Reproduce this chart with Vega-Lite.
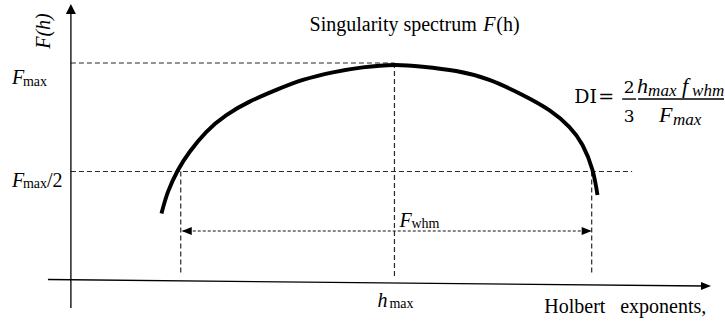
{
  "$schema": "https://vega.github.io/schema/vega-lite/v6.json",
  "width": 725,
  "height": 322,
  "padding": 0,
  "autosize": {"type": "fit", "contains": "padding"},
  "background": "white",
  "config": {"view": {"stroke": null}},
  "datasets": {
    "curve": [
      {"h": 0.907, "F": 0.307},
      {"h": 0.973, "F": 0.407},
      {"h": 1.073, "F": 0.507},
      {"h": 1.19, "F": 0.591},
      {"h": 1.357, "F": 0.683},
      {"h": 1.557, "F": 0.76},
      {"h": 1.79, "F": 0.822},
      {"h": 2.057, "F": 0.876},
      {"h": 2.323, "F": 0.922},
      {"h": 2.623, "F": 0.957},
      {"h": 2.923, "F": 0.98},
      {"h": 3.24, "F": 0.991},
      {"h": 3.523, "F": 0.983},
      {"h": 3.857, "F": 0.963},
      {"h": 4.19, "F": 0.922},
      {"h": 4.523, "F": 0.853},
      {"h": 4.79, "F": 0.783},
      {"h": 4.99, "F": 0.706},
      {"h": 5.123, "F": 0.622},
      {"h": 5.223, "F": 0.507},
      {"h": 5.273, "F": 0.392}
    ],
    "guides": [
      {"h": 0, "F": 1.0, "h2": 3.24, "F2": 1.0},
      {"h": 0, "F": 0.5, "h2": 5.62, "F2": 0.5},
      {"h": 1.1, "F": 0.5, "h2": 1.1, "F2": 0.023},
      {"h": 3.24, "F": 1.0, "h2": 3.24, "F2": 0.009},
      {"h": 5.215, "F": 0.5, "h2": 5.215, "F2": 0.023}
    ],
    "span": [
      {"h": 1.12, "F": 0.2258, "h2": 5.2, "F2": 0.2258}
    ],
    "axes": [
      {"h": 0, "F": -0.129, "h2": 0, "F2": 1.235},
      {"h": -0.23, "F": 0.0023, "h2": 6.34, "F2": -0.0276}
    ],
    "bars": [
      {"h": 5.52, "F": 0.834, "h2": 5.66, "F2": 0.834},
      {"h": 5.68, "F": 0.834, "h2": 6.54, "F2": 0.834}
    ],
    "headUp": [{"h": 0, "F": 1.2488}],
    "headRight": [{"h": 6.36, "F": -0.0276}, {"h": 5.165, "F": 0.2258}],
    "headLeft": [{"h": 1.16, "F": 0.2258}],
    "labelRegular": [
      {"h": 2.39, "F": 1.1475, "t": "Singularity spectrum"},
      {"h": 4.26, "F": 1.1475, "t": "(h)"},
      {"h": -0.24, "F": 0.4286, "t": "/2"},
      {"h": 4.74, "F": -0.152, "t": "Holbert"},
      {"h": 5.5, "F": -0.152, "t": "exponents,"}
    ],
    "labelItalic": [
      {"h": 4.13, "F": 1.1475, "t": "F"},
      {"h": -0.59, "F": 0.9032, "t": "F"},
      {"h": -0.59, "F": 0.4286, "t": "F"},
      {"h": 3.29, "F": 0.2442, "t": "F"},
      {"h": 3.07, "F": -0.1244, "t": "h"}
    ],
    "labelSub": [
      {"h": -0.48, "F": 0.894, "t": "max"},
      {"h": -0.48, "F": 0.424, "t": "max"},
      {"h": 3.41, "F": 0.2396, "t": "whm"},
      {"h": 3.19, "F": -0.129, "t": "max"}
    ],
    "axisTitle": [{"h": -0.27, "F": 1.1475, "t": "F(h)"}],
    "mathRegular": [
      {"h": 5.04, "F": 0.8157, "t": "DI"},
      {"h": 5.28, "F": 0.8157, "t": "="}
    ],
    "mathDigits": [
      {"h": 5.59, "F": 0.8618, "t": "2"},
      {"h": 5.59, "F": 0.7281, "t": "3"}
    ],
    "mathItalic": [
      {"h": 5.67, "F": 0.8618, "t": "h"},
      {"h": 6.12, "F": 0.8618, "t": "f"},
      {"h": 5.89, "F": 0.7281, "t": "F"}
    ],
    "mathSub": [
      {"h": 5.78, "F": 0.8479, "t": "max"},
      {"h": 6.22, "F": 0.8479, "t": "whm"},
      {"h": 6.03, "F": 0.7143, "t": "max"}
    ]
  },
  "encoding": {
    "x": {"field": "h", "type": "quantitative", "scale": {"domain": [-0.71, 6.54], "nice": false, "zero": false}, "axis": null},
    "y": {"field": "F", "type": "quantitative", "scale": {"domain": [-0.1935, 1.2903], "nice": false, "zero": false}, "axis": null}
  },
  "layer": [
    {"data": {"name": "guides"}, "mark": {"type": "rule", "color": "#2a2a2a", "strokeWidth": 1.2, "strokeDash": [5, 3]},
     "encoding": {"x2": {"field": "h2"}, "y2": {"field": "F2"}}},
    {"data": {"name": "span"}, "mark": {"type": "rule", "color": "#111111", "strokeWidth": 1.2, "strokeDash": [3, 2]},
     "encoding": {"x2": {"field": "h2"}, "y2": {"field": "F2"}}},
    {"data": {"name": "axes"}, "mark": {"type": "rule", "color": "#000000", "strokeWidth": 1.3},
     "encoding": {"x2": {"field": "h2"}, "y2": {"field": "F2"}}},
    {"data": {"name": "bars"}, "mark": {"type": "rule", "color": "#000000", "strokeWidth": 1.4},
     "encoding": {"x2": {"field": "h2"}, "y2": {"field": "F2"}}},
    {"data": {"name": "curve"}, "mark": {"type": "line", "color": "#000000", "strokeWidth": 3.9, "interpolate": "natural", "strokeCap": "butt"},
     "encoding": {}},
    {"data": {"name": "headUp"}, "mark": {"type": "point", "shape": "M0,-1L-1,1L1,1Z", "size": 100, "filled": true, "color": "#000000", "opacity": 1}, "encoding": {}},
    {"data": {"name": "headRight"}, "mark": {"type": "point", "shape": "M1,0L-1,-0.8L-1,0.8Z", "size": 100, "filled": true, "color": "#000000", "opacity": 1}, "encoding": {}},
    {"data": {"name": "headLeft"}, "mark": {"type": "point", "shape": "M-1,0L1,-0.8L1,0.8Z", "size": 100, "filled": true, "color": "#000000", "opacity": 1}, "encoding": {}},
    {"data": {"name": "labelRegular"}, "mark": {"type": "text", "font": "Liberation Serif", "fontSize": 20, "align": "left", "baseline": "alphabetic", "color": "#000000"},
     "encoding": {"text": {"field": "t"}}},
    {"data": {"name": "labelItalic"}, "mark": {"type": "text", "font": "Liberation Serif", "fontStyle": "italic", "fontSize": 20, "align": "left", "baseline": "alphabetic", "color": "#000000"},
     "encoding": {"text": {"field": "t"}}},
    {"data": {"name": "labelSub"}, "mark": {"type": "text", "font": "Liberation Serif", "fontSize": 14, "align": "left", "baseline": "alphabetic", "color": "#000000"},
     "encoding": {"text": {"field": "t"}}},
    {"data": {"name": "axisTitle"}, "mark": {"type": "text", "font": "Liberation Serif", "fontStyle": "italic", "fontSize": 20, "angle": 270, "align": "center", "baseline": "middle", "color": "#000000"},
     "encoding": {"text": {"field": "t"}}},
    {"data": {"name": "mathRegular"}, "mark": {"type": "text", "font": "DejaVu Serif", "fontSize": 19, "align": "left", "baseline": "alphabetic", "color": "#000000"},
     "encoding": {"text": {"field": "t"}}},
    {"data": {"name": "mathDigits"}, "mark": {"type": "text", "font": "DejaVu Serif", "fontSize": 17, "align": "center", "baseline": "alphabetic", "color": "#000000"},
     "encoding": {"text": {"field": "t"}}},
    {"data": {"name": "mathItalic"}, "mark": {"type": "text", "font": "Liberation Serif", "fontStyle": "italic", "fontSize": 22, "align": "left", "baseline": "alphabetic", "color": "#000000"},
     "encoding": {"text": {"field": "t"}}},
    {"data": {"name": "mathSub"}, "mark": {"type": "text", "font": "Liberation Serif", "fontStyle": "italic", "fontSize": 17, "align": "left", "baseline": "alphabetic", "color": "#000000"},
     "encoding": {"text": {"field": "t"}}}
  ]
}
